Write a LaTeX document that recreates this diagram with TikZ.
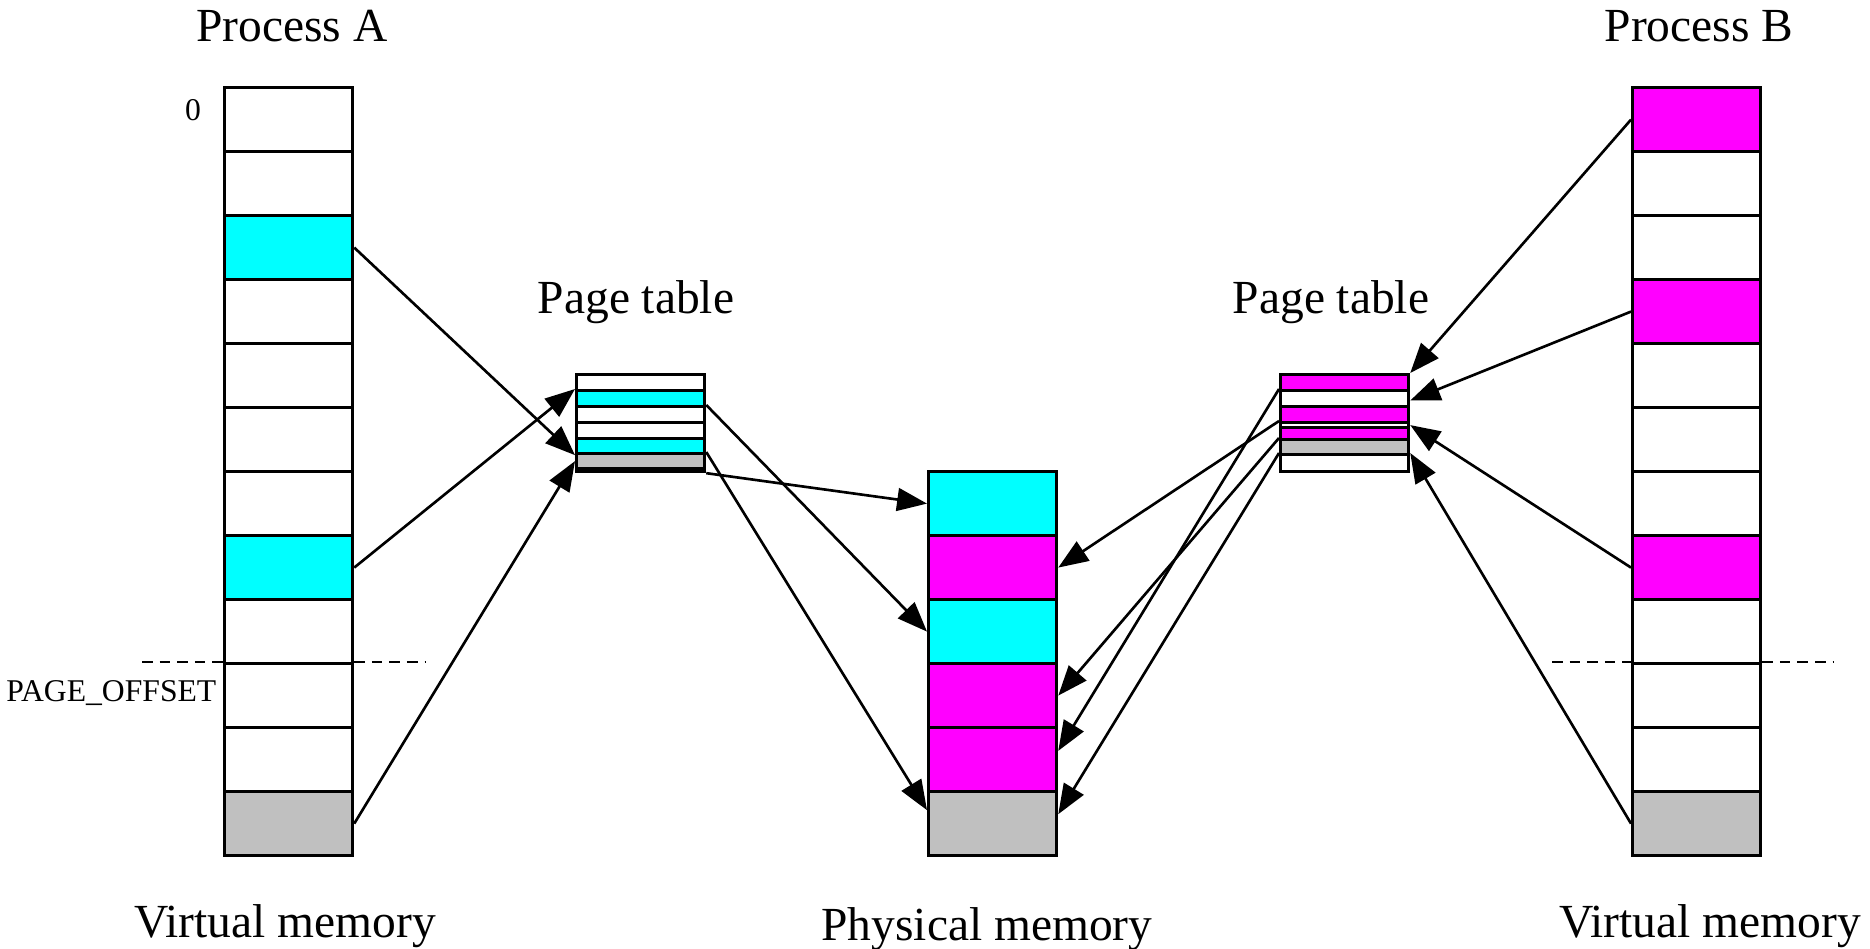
\documentclass[tikz,border=0pt]{standalone}
\usepackage{fontspec}
\setmainfont{Liberation Serif}
\usetikzlibrary{arrows.meta,calc}

\definecolor{pgcyan}{RGB}{0,255,255}
\definecolor{pgmagenta}{RGB}{255,0,255}
\definecolor{pggray}{RGB}{192,192,192}

\tikzset{
    page/.style={draw, line width=0.9pt, inner sep=0pt, anchor=north west,
        minimum width=1.28cm, minimum height=0.64cm},
    entry/.style={draw, line width=0.9pt, inner sep=0pt, anchor=north west,
        minimum width=1.28cm},
    map/.style={->, line width=0.75pt},
    bigtext/.style={font=\fontsize{13.5}{16}\selectfont, inner sep=0pt},
    smalltext/.style={font=\fontsize{9}{11}\selectfont, inner sep=0pt},
    boundary/.style={line width=0.75pt, dash pattern=on 3pt off 2pt}
}

\begin{document}
\begin{tikzpicture}[x=0.01cm, y=-0.01cm, >={Triangle[length=8.5pt,width=6.5pt]}]
    \useasboundingbox (0,0) rectangle (1870,949);

    % Process A: virtual memory
    \node[bigtext, anchor=base] (titleA) at (292,42) {Process A};
    \foreach \c [count=\i] in {white,white,pgcyan,white,white,white,white,pgcyan,white,white,white,pggray} {
        \node[page, fill=\c] (va\i) at (223,{86+64*(\i-1)}) {};
    }
    \node[smalltext] (zero) at (193,110) {0};
    \node[smalltext, anchor=base east] (offset) at (217,701) {PAGE\_OFFSET};
    \coordinate (offAl) at (142,662);
    \coordinate (offAr) at (426,662);
    \draw[boundary] (offAl) -- (va10.north west);
    \draw[boundary] (va10.north east) -- (offAr);
    \node[bigtext, anchor=base] (vmA) at (285,937) {Virtual memory};

    % Process A: page table
    \node[bigtext, anchor=base] (ptlabA) at (636,314) {Page table};
    \foreach \y/\h/\c [count=\i] in {373/0.16cm/white, 389/0.16cm/pgcyan, 405/0.16cm/white,
            421/0.16cm/white, 437/0.15cm/pgcyan, 452/0.15cm/pggray, 467/0.03cm/white} {
        \node[entry, fill=\c, minimum height=\h] (pta\i) at (575,\y) {};
    }

    % Physical memory
    \foreach \c [count=\i] in {pgcyan,pgmagenta,pgcyan,pgmagenta,pgmagenta,pggray} {
        \node[page, fill=\c] (pm\i) at (927,{470+64*(\i-1)}) {};
    }
    \node[bigtext, anchor=base] (pmlab) at (987,940) {Physical memory};

    % Process B: page table
    \node[bigtext, anchor=base] (ptlabB) at (1331,314) {Page table};
    \foreach \y/\h/\c [count=\i] in {373/0.16cm/pgmagenta, 389/0.16cm/white, 405/0.16cm/pgmagenta,
            421/0.05cm/white, 426/0.12cm/pgmagenta, 438/0.15cm/pggray, 453/0.17cm/white} {
        \node[entry, fill=\c, minimum height=\h] (ptb\i) at (1279,\y) {};
    }

    % Process B: virtual memory
    \node[bigtext, anchor=base] (titleB) at (1699,42) {Process B};
    \foreach \c [count=\i] in {pgmagenta,white,white,pgmagenta,white,white,white,pgmagenta,white,white,white,pggray} {
        \node[page, fill=\c] (vb\i) at (1631,{86+64*(\i-1)}) {};
    }
    \coordinate (offBl) at (1552,662);
    \coordinate (offBr) at (1833,662);
    \draw[boundary] (offBl) -- (vb10.north west);
    \draw[boundary] (vb10.north east) -- (offBr);
    \node[bigtext, anchor=base] (vmB) at (1710,937) {Virtual memory};

    % virtual pages -> page table A
    \draw[map] (va3.east) -- (pta5.south west);
    \draw[map] (va8.east) -- (pta2.north west);
    \draw[map] (va12.east) -- (pta6.west);

    % page table A -> frames
    \draw[map] (pta3.north east) -- (pm3.west);
    \draw[map] (pta7.south east) -- (pm1.west);
    \draw[map] (pta6.north east) -- ($(pm6.north west)!0.3!(pm6.south west)$);

    % virtual pages -> page table B
    \draw[map] (vb1.west) -- (ptb1.north east);
    \draw[map] (vb4.west) -- ($(ptb2.north east)!0.6!(ptb2.south east)$);
    \draw[map] (vb8.west) -- (ptb4.east);
    \draw[map] (vb12.west) -- (ptb7.north east);

    % page table B -> frames
    \draw[map] (ptb2.north west) -- ($(pm5.north east)!0.37!(pm5.south east)$);
    \draw[map] (ptb4.north west) -- (pm2.east);
    \draw[map] (ptb6.north west) -- (pm4.east);
    \draw[map] (ptb7.north west) -- ($(pm6.north east)!0.36!(pm6.south east)$);
\end{tikzpicture}
\end{document}
